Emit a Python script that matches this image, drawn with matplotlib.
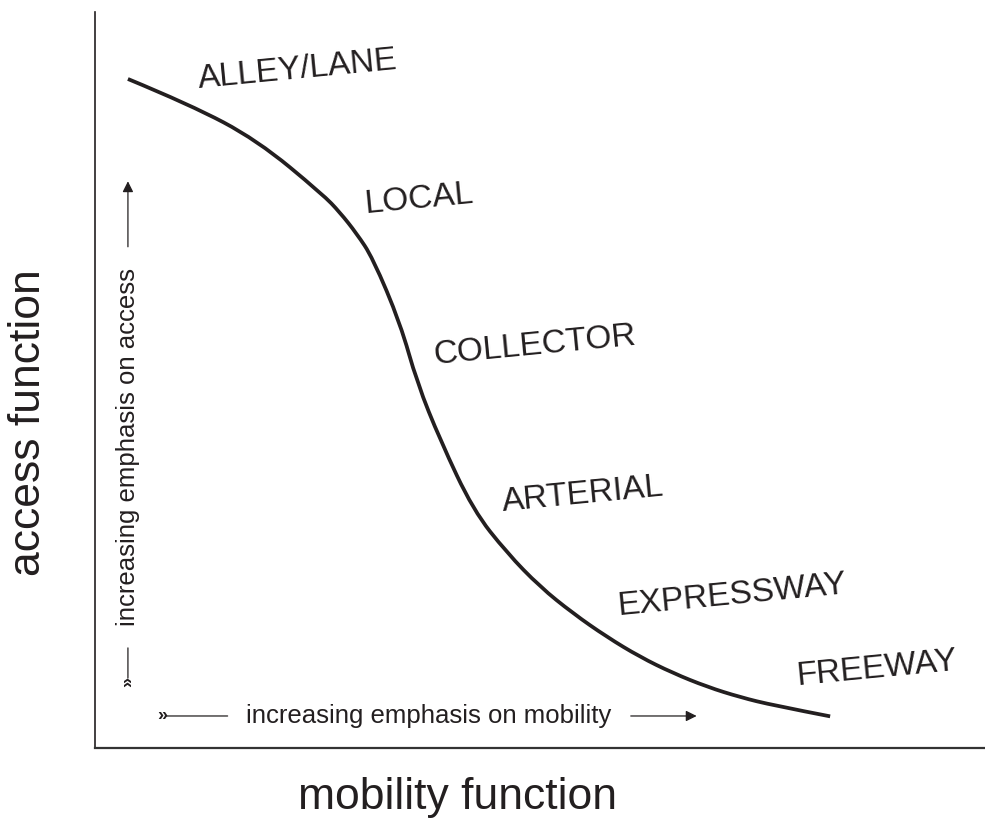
import matplotlib.pyplot as plt
from matplotlib.path import Path
from matplotlib.patches import PathPatch

# curve (mobility 0-100, access 0-100)
mobility = [3.7, 10.7, 18.2, 25.6, 27.5, 29.4, 31.2, 34.3, 36.2, 38.8, 42.5,
            46.3, 50.0, 53.7, 57.5, 61.2, 64.9, 68.8, 72.5, 76.2, 82.6]
access = [90.9, 87.4, 82.6, 75.2, 72.8, 69.9, 66.6, 57.7, 49.6, 41.8, 32.3,
          26.5, 21.9, 18.3, 15.1, 12.4, 10.2, 8.3, 6.9, 5.8, 4.3]

road_types = ["ALLEY/LANE", "LOCAL", "COLLECTOR", "ARTERIAL", "EXPRESSWAY", "FREEWAY"]
label_x = [22.8, 36.4, 49.4, 54.8, 71.5, 87.8]
label_y = [92.1, 74.5, 54.6, 34.4, 20.7, 10.7]

ink = "#231f20"
plt.rcParams["font.family"] = ["Liberation Sans", "DejaVu Sans"]

fig = plt.figure(figsize=(9.85, 8.34), dpi=100)
ax = fig.add_axes([95 / 985, 86 / 834, 890 / 985, 736 / 834])
ax.set_xlim(0, 100)
ax.set_ylim(0, 100)

# smooth curve: quadratic beziers with the read points as control points
pts = list(zip(mobility, access))
verts = [pts[0]]
codes = [Path.MOVETO]
for i in range(1, len(pts) - 1):
    nxt = pts[i + 1] if i == len(pts) - 2 else (
        (pts[i][0] + pts[i + 1][0]) / 2, (pts[i][1] + pts[i + 1][1]) / 2)
    verts += [pts[i], nxt]
    codes += [Path.CURVE3, Path.CURVE3]
ax.add_patch(PathPatch(Path(verts, codes), facecolor="none", edgecolor=ink,
                       lw=2.7, capstyle="butt"))

for name, lx, ly in zip(road_types, label_x, label_y):
    ax.text(lx, ly, name, fontsize=24, color=ink, rotation=5.5,
            rotation_mode="anchor", ha="center", va="center")

# emphasis arrows
arr = dict(arrowstyle="-|>", color=ink, lw=0.9, mutation_scale=16, shrinkA=0, shrinkB=0)
line = dict(arrowstyle="-", color=ink, lw=0.9, shrinkA=0, shrinkB=0)

ax.annotate("", xy=(3.7, 77.0), xytext=(3.7, 68.1), arrowprops=arr)
ax.annotate("", xy=(3.7, 13.6), xytext=(3.7, 9.5), arrowprops=line)
ax.text(3.7, 9.6, "\u00bb", rotation=90, fontsize=13, fontweight="bold",
        color=ink, ha="center", va="top")
ax.text(3.7, 40.9, "increasing emphasis on access", rotation=90, fontsize=18.5,
        color=ink, ha="center", va="center")

ax.annotate("", xy=(67.6, 4.35), xytext=(60.2, 4.35), arrowprops=arr)
ax.annotate("", xy=(14.9, 4.35), xytext=(7.9, 4.35), arrowprops=line)
ax.text(8.1, 4.35, "\u00bb", fontsize=13, fontweight="bold", color=ink,
        ha="right", va="center")
ax.text(37.5, 4.35, "increasing emphasis on mobility", fontsize=18.5,
        color=ink, ha="center", va="center")

ax.set_xticks([])
ax.set_yticks([])
ax.spines["top"].set_visible(False)
ax.spines["right"].set_visible(False)
ax.spines["left"].set_linewidth(1.2)
ax.spines["bottom"].set_linewidth(1.6)
ax.spines["left"].set_color(ink)
ax.spines["bottom"].set_color("#333333")

fig.text(29 / 985, 1 - 423 / 834, "access function", rotation=90, fontsize=32,
         color=ink, ha="center", va="center")
fig.text(458 / 985, 1 - 797 / 834, "mobility function", fontsize=32,
         color=ink, ha="center", va="center")

fig.savefig("out.png", dpi=100)
